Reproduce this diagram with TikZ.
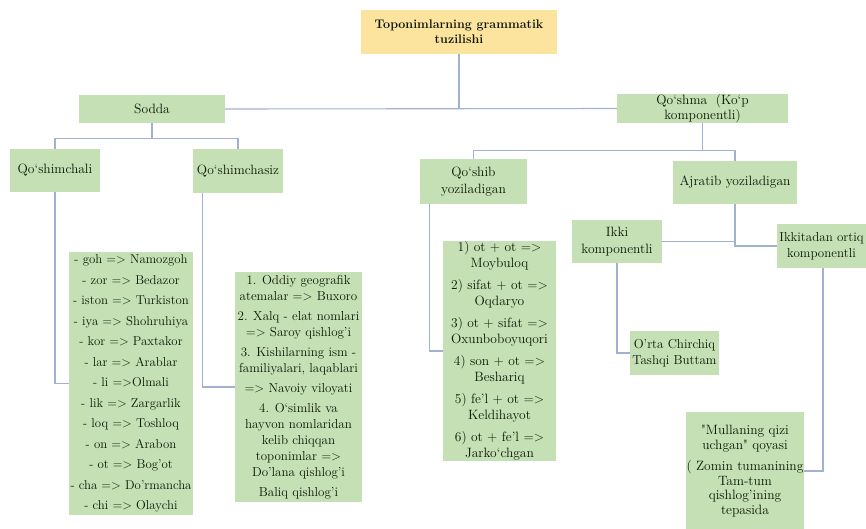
\documentclass[tikz,border=0pt]{standalone}
\definecolor{box-green}{RGB}{197,224,180}
\definecolor{box-gold}{RGB}{252,227,158}
\definecolor{link-blue}{RGB}{160,178,208}
\definecolor{text-dark}{RGB}{12,22,8}

\tikzset{
  leaf/.style={fill=box-green, text=text-dark, align=center, inner sep=0pt,
    font=\fontsize{13.5}{16.5}\selectfont},
  link/.style={draw=link-blue, line width=1.1pt},
}

\begin{document}
\begin{tikzpicture}[x=1pt,y=-1pt]

\useasboundingbox (0,0) rectangle (866,528);

% top level
\node[leaf, fill=box-gold, minimum width=196pt, minimum height=44pt,
  font=\bfseries\fontsize{12.5}{15}\selectfont] (title) at (459,32)
  {Toponimlarning grammatik\\tuzilishi};
\node[leaf, minimum width=146pt, minimum height=28pt] (sodda) at (152,109) {Sodda};
\node[leaf, minimum width=171pt, minimum height=29pt,
  font=\fontsize{13.5}{14.5}\selectfont] (qoshma) at (702.5,108.5)
  {Qo‘shma\ \ (Ko‘p\\komponentli)};

% second level
\node[leaf, minimum width=90pt, minimum height=43pt] (qchali) at (55,170.5) {Qo‘shimchali};
\node[leaf, minimum width=90pt, minimum height=44pt] (qsiz) at (238,171) {Qo‘shimchasiz};
\node[leaf, minimum width=107pt, minimum height=45pt] (qoshib) at (473.5,181.5)
  {Qo‘shib\\yoziladigan};
\node[leaf, minimum width=124pt, minimum height=43pt] (ajratib) at (735,182.5)
  {Ajratib yoziladigan};
\node[leaf, minimum width=90pt, minimum height=43pt] (ikki) at (617,241.5)
  {Ikki\\komponentli};
\node[leaf, minimum width=89pt, minimum height=44pt,
  font=\fontsize{13}{16}\selectfont] (ikkita) at (821.5,246)
  {Ikkitadan ortiq\\komponentli};

% examples
\node[leaf, minimum width=124pt, minimum height=263pt,
  font=\fontsize{12.8}{16.5}\selectfont] (list1) at (131,383.5)
  {- goh => Namozgoh\\[4pt]- zor => Bedazor\\[4pt]- iston => Turkiston\\[4pt]
   - iya => Shohruhiya\\[4pt]- kor => Paxtakor\\[4pt]- lar => Arablar\\[4pt]
   - li =>Olmali\\[4pt]- lik => Zargarlik\\[4pt]- loq => Toshloq\\[4pt]
   - on => Arabon\\[4pt]- ot => Bog'ot\\[4pt]- cha => Do'rmancha\\[4pt]
   - chi => Olaychi};
\node[leaf, minimum width=127pt, minimum height=230pt,
  font=\fontsize{13}{16}\selectfont] (list2) at (298.5,387)
  {1. Oddiy geografik\\atemalar => Buxoro\\[4pt]
   2. Xalq - elat nomlari\\=> Saroy qishlog'i\\[4pt]
   3. Kishilarning ism -\\familiyalari, laqablari\\[4pt]
   => Navoiy viloyati\\[4pt]
   4. O‘simlik va\\hayvon nomlaridan\\kelib chiqqan\\toponimlar =>\\Do'lana qishlog'i\\[4pt]
   Baliq qishlog'i};
\node[leaf, minimum width=113pt, minimum height=208pt] (list3) at (499.5,351)
  {1) ot + ot =>\\Moybuloq\\[5pt]2) sifat + ot =>\\Oqdaryo\\[5pt]
   3) ot + sifat =>\\Oxunboboyuqori\\[5pt]4) son + ot =>\\Beshariq\\[5pt]
   5) fe'l + ot =>\\Keldihayot\\[5pt]6) ot + fe'l =>\\Jarko‘chgan};
\node[leaf, minimum width=89pt, minimum height=44pt,
  font=\fontsize{13}{16}\selectfont] (orta) at (674.5,353)
  {O'rta Chirchiq\\Tashqi Buttam};
\node[leaf, minimum width=118pt, minimum height=118pt,
  font=\fontsize{13.5}{14.5}\selectfont] (mulla) at (745,471)
  {\textquotedbl Mullaning qizi\\uchgan\textquotedbl{} qoyasi\\[7pt]( Zomin tumanining\\Tam-tum\\qishlog'ining\\tepasida};

% connectors
\draw[link] (title.south) -- (title.south |- sodda.east);
\draw[link] (sodda.east) -- (qoshma.west);

\draw[link] (sodda.south) -- ([yshift=-15pt]sodda.south);
\draw[link] (qchali.north) |- ([yshift=-15pt]sodda.south) -| (qsiz.north);
\draw[link] (qoshma.south) -- ([yshift=-27pt]qoshma.south);
\draw[link] (qoshib.north) |- ([yshift=-27pt]qoshma.south) -| (ajratib.north);

\draw[link] (qchali.south) |- (list1.west);
\draw[link] ([xshift=10pt]qsiz.south west) |- (list2.west);
\draw[link] ([xshift=10pt]qoshib.south west) |- (list3.west);

\draw[link] (ajratib.south) |- (ikkita.west);
\draw[link] (ikki.east) -- (ikki.east -| ajratib.south);
\draw[link] (ikki.south) |- (orta.west);
\draw[link] ([xshift=1.5pt]ikkita.south) |- (mulla.east);

\end{tikzpicture}
\end{document}
